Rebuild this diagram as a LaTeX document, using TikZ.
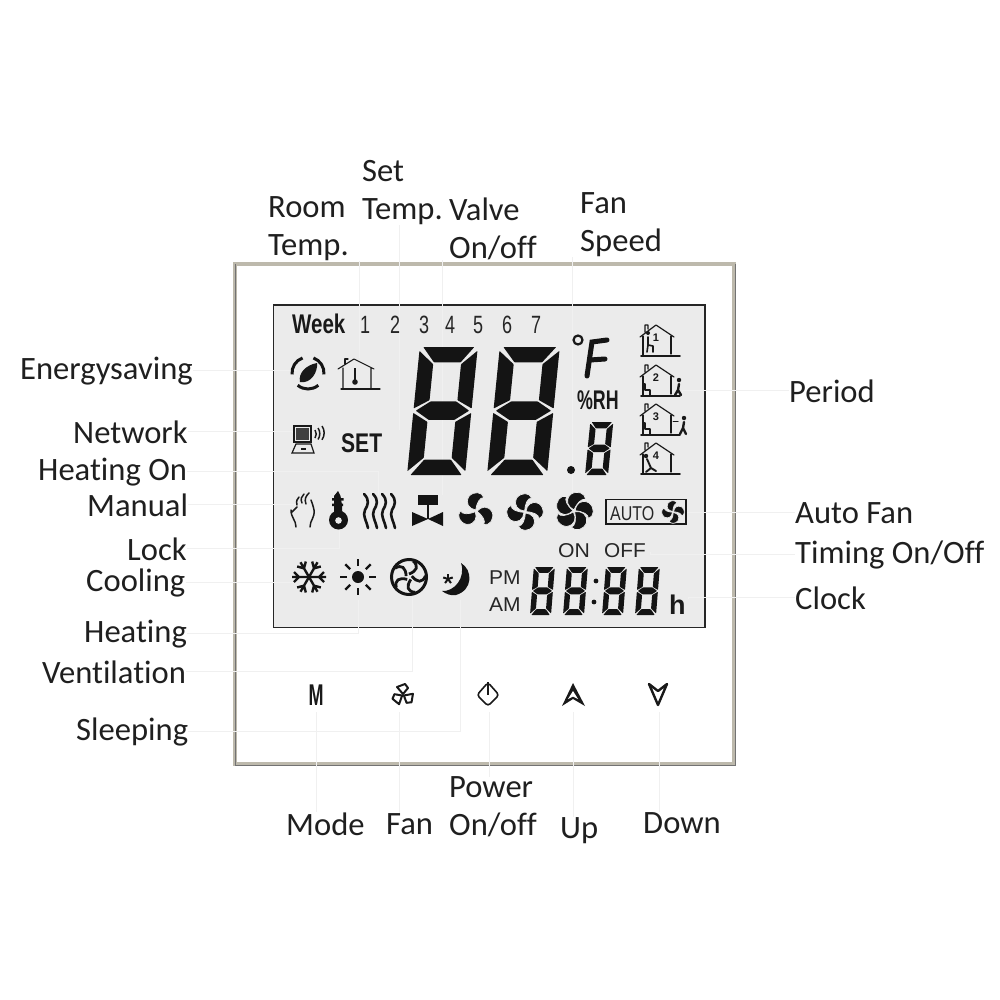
\documentclass[tikz,border=0pt]{standalone}
\usepackage{fontspec}
\setmainfont[Ligatures=NoCommon]{Carlito}
\newfontfamily\lcdfont{Liberation Sans}
\definecolor{rim}{HTML}{BDB9AC}
\tikzset{
  x=1pt,y=-1pt,
  lbl/.style={font=\fontsize{32.6}{38}\selectfont,text=black!88,inner sep=0pt,anchor=base west},
  lbltwo/.style={font=\fontsize{32.6}{38}\selectfont,text=black!88,inner sep=0pt,anchor=west,align=left},
  leader/.style={draw=black!6,line width=0.8pt},
  lcdtxt/.style={font=\lcdfont\fontsize{20}{20}\selectfont,inner sep=0pt,text=black!85,transform shape},
  lcdnum/.style={font=\lcdfont\fontsize{25}{25}\selectfont,inner sep=0pt,text=black!85,transform shape,xscale=.72},
  lcdbold/.style={font=\lcdfont\bfseries\fontsize{27}{27}\selectfont,inner sep=0pt,text=black!90,transform shape},
  seg/.style={fill=black!92,draw=none,rounded corners=0.6pt},
  ink/.style={draw=black!90,line width=1.3pt,line cap=round,line join=round},
}
\newcommand{\lcddigit}[5]{% X Y(bottom-left) W H slant
 \begin{scope}[shift={(#1,#2)},x=#3pt/10,y=#4pt/20,xslant=#5]
  \fill[seg] (0.6,20)--(9.4,20)--(7.3,17.6)--(2.7,17.6)--cycle;
  \fill[seg] (0,19.4)--(2.6,17.3)--(2.6,11.7)--(0,10.4)--cycle;
  \fill[seg] (10,19.4)--(7.4,17.3)--(7.4,11.7)--(10,10.4)--cycle;
  \fill[seg] (0.4,10.05)--(2.8,11.5)--(7.2,11.5)--(9.6,10.05)--(7.2,8.6)--(2.8,8.6)--cycle;
  \fill[seg] (0,9.7)--(2.6,8.3)--(2.6,2.7)--(0,0.6)--cycle;
  \fill[seg] (10,9.7)--(7.4,8.3)--(7.4,2.7)--(10,0.6)--cycle;
  \fill[seg] (0.6,0)--(9.4,0)--(7.3,2.4)--(2.7,2.4)--cycle;
 \end{scope}}
\newcommand{\fanicon}[5]{% x y scale anglelist startrot
 \begin{scope}[shift={(#1,#2)},scale=#3,rotate=#5]
  \foreach \a in {#4}{
   \filldraw[fill=black!92,draw=black!8,line width=.7pt,rotate=\a] (0,-1) .. controls (-6,-4) and (-9,-10) .. (-3,-16)
     .. controls (3,-20) and (11,-17) .. (11,-11) .. controls (7,-12) and (3,-8) .. (0,-1) -- cycle;}
  \fill[black!8] (0,0) circle (1.4);
 \end{scope}}
\newcommand{\houseicon}[3]{% x y number
 \begin{scope}[shift={(#1,#2)}]
  \draw[ink,line width=1.1pt] (3,32)--(3,12) (31,12)--(31,30);
  \draw[ink,line width=1.2pt] (0,13)--(16,1)--(34,13) (5,8)--(5,1)--(8,1)--(8,5);
  \draw[ink,line width=1.7pt] (1,32)--(40,32);
  \node[inner sep=0pt,font=\lcdfont\bfseries\fontsize{11}{11}\selectfont,text=black!90] at (16,14) {#3};
 \end{scope}}
\begin{document}
\begin{tikzpicture}
\useasboundingbox (0,0) rectangle (1000,1000);
% panel
\draw[draw=rim,line width=4pt] (235,264) rectangle (734,764);
\draw[black!55,line width=0.8pt] (235,264)--(235,765)--(735,765)--(735,264);
\draw[fill=black!8,draw=black!85,line width=1.5pt] (273.5,305) rectangle (705,627.5);
% anchor points on the icons
\coordinate (iEnergy) at (296,370);
\coordinate (iNetwork) at (292,432);
\coordinate (iHeatOn) at (378,495);
\coordinate (iManual) at (296,507);
\coordinate (iLock) at (339,530);
\coordinate (iCool) at (295,582);
\coordinate (iHeat) at (358,600);
\coordinate (iVent) at (412,597);
\coordinate (iSleep) at (460,600);
\coordinate (iRoom) at (359,358);
\coordinate (iSet) at (399,430);
\coordinate (iValve) at (442,495);
\coordinate (iFanS) at (572,495);
\coordinate (iPeriod) at (682,393);
\coordinate (iAutoF) at (687,512);
\coordinate (iTiming) at (650,552);
\coordinate (iClock) at (688,598);
\coordinate (bMode) at (316,712);
\coordinate (bFan) at (399,712);
\coordinate (bPower) at (489,712);
\coordinate (bUp) at (573,712);
\coordinate (bDown) at (659,712);
% labels
\node[lbl] (lEnergy) at (20,379) {Energysaving};
\node[lbl] (lNetwork) at (73,443) {Network};
\node[lbl] (lHeatOn) at (38,480) {Heating On};
\node[lbl] (lManual) at (87,516) {Manual};
\node[lbl] (lLock) at (127,560) {Lock};
\node[lbl] (lCool) at (86,591) {Cooling};
\node[lbl] (lHeat) at (84,642) {Heating};
\node[lbl] (lVent) at (42,683) {Ventilation};
\node[lbl] (lSleep) at (76,740) {Sleeping};
\node[lbl] (lPeriod) at (789,402) {Period};
\node[lbl] (lAutoF) at (795,523) {Auto Fan};
\node[lbl] (lTiming) at (795,563) {Timing On/Off};
\node[lbl] (lClock) at (795,609) {Clock};
\node[lbl] (lMode) at (286,835) {Mode};
\node[lbl] (lFan) at (386,834) {Fan};
\node[lbl] (lUp) at (560,838) {Up};
\node[lbl] (lDown) at (643,833) {Down};
\node[lbltwo] (lPower) at (449,807) {Power\\On/off};
\node[lbltwo] (lRoom) at (268,229) {Room\\Temp.};
\node[lbltwo] (lSet) at (362,193) {Set\\Temp.};
\node[lbltwo] (lValve) at (449,229) {Valve\\On/off};
\node[lbltwo] (lFanS) at (580,225) {Fan\\Speed};
% leaders
\draw[leader] (lEnergy.east) -| (iEnergy);
\draw[leader] (lNetwork.east) -| (iNetwork);
\draw[leader] (lHeatOn.east) -| (iHeatOn);
\draw[leader] (lManual.east) -| (iManual);
\draw[leader] (lLock.east) -| (iLock);
\draw[leader] (lCool.east) -| (iCool);
\draw[leader] (lHeat.east) -| (iHeat);
\draw[leader] (lVent.east) -| (iVent);
\draw[leader] (lSleep.east) -| (iSleep);
\draw[leader] (lPeriod.west) -| (iPeriod);
\draw[leader] (lAutoF.west) -| (iAutoF);
\draw[leader] (lTiming.west) -| (iTiming);
\draw[leader] (lClock.west) -| (iClock);
\draw[leader] (iRoom) -- (iRoom |- lRoom.south);
\draw[leader] (iSet) -- (iSet |- lSet.south);
\draw[leader] (iValve) -- (iValve |- lValve.south);
\draw[leader] (iFanS) -- (iFanS |- lFanS.south);
\draw[leader] (bMode) -- (bMode |- lMode.north);
\draw[leader] (bFan) -- (bFan |- lFan.north);
\draw[leader] (bPower) -- (bPower |- lPower.north);
\draw[leader] (bUp) -- (bUp |- lUp.north);
\draw[leader] (bDown) -- (bDown |- lDown.north);
% week row
\node[lcdbold,anchor=base west,xscale=.76] (tWeek) at (292,333) {Week};
\foreach \px/\n in {365/1,395/2,424/3,450/4,478/5,507/6,536/7}
  \node[lcdnum,anchor=base] (tDay\n) at (\px,333) {\n};
% big digits
\lcddigit{407}{475}{58}{128}{.1}
\lcddigit{487}{475}{60}{128}{.1}
\lcddigit{585}{475}{23}{53}{.1}
\fill[black!92] (571,470) circle (4);
% deg F, RH
\draw[black!90,line width=2.2pt] (578,340) circle (4.5);
\draw[black!92,line width=5pt,line cap=round] (587,376)--(592,342)--(607,340) (590,360)--(605,359);
\node[lcdbold,anchor=base west,xscale=.66] (tRH) at (577,409) {\%RH};
\node[lcdbold,anchor=base west,xscale=.78] (tSet) at (341,452) {SET};
% energy icon
\begin{scope}[shift={(308,373)}]
 \draw[black!92,line width=3pt] (175:16) arc[start angle=175,end angle=250,radius=16];
 \draw[black!92,line width=3pt] (290:16) arc[start angle=290,end angle=365,radius=16];
 \draw[black!92,line width=3pt] (50:16) arc[start angle=50,end angle=130,radius=16];
\end{scope}
\fill[black!90] (300,382) .. controls (298,373) and (306,365) .. (317,363) .. controls (318,372) and (311,384) .. (300,382) -- cycle;
% house thermometer
\draw[ink,line width=1.1pt] (343,389)--(343,368) (371,368)--(371,389) (338,369)--(354,359)--(374,369);
\draw[ink,line width=1.1pt] (341,389)--(380,389) (345,364)--(345,359)--(348,359);
\draw[black!90,line width=1.8pt] (355,368)--(355,380);
\fill[black!90] (355,382) circle (2.8);
% network
\draw[black!90,line width=1.2pt] (294,426) rectangle (311,442);
\fill[black!75] (296,428) rectangle (309,440);
\draw[black!90,line width=1.2pt] (296,444)--(292,453)--(314,453)--(311,444)--cycle;
\draw[black!90,line width=1.2pt] (301,449)--(306,449);
\draw[black!90,line width=1.5pt] (315,430) arc[start angle=-35,end angle=35,radius=7];
\draw[black!90,line width=1.5pt] (318,428) arc[start angle=-35,end angle=35,radius=10];
\draw[black!90,line width=1.5pt] (322,426) arc[start angle=-35,end angle=35,radius=12];
% hand
\draw[ink,line width=1.5pt] (296,527) .. controls (296,520) and (291,518) .. (291,510) (292,512)--(297,507);
\draw[ink,line width=1.5pt] (310,527) .. controls (310,520) and (315,518) .. (314,510) .. controls (313,505) and (312,503) .. (311,500);
\draw[ink,line width=1.5pt] (297,505) .. controls (296,501) and (297,499) .. (299,497) (302,503) .. controls (300,499) and (302,496) .. (304,494) (306,504) .. controls (304,499) and (306,496) .. (309,493);
% key thermometer
\fill[black!92] (338,491)--(340.5,496)--(342,505)--(342,514)--(334,514)--(334,496)--cycle;
\fill[black!92] (338.5,520) circle (9.5);
\fill[black!8] (338.5,520.5) circle (3.3);
\fill[black!92] (332,498) rectangle (343.5,500.5) (332,503.5) rectangle (343,506);
% waves
\foreach \dx in {0,9,18,27}
 \draw[black!92,line width=2.6pt,line cap=round] (364+\dx,494) .. controls (370+\dx,500) and (368+\dx,505) .. (365+\dx,510) .. controls (362+\dx,515) and (367+\dx,522) .. (368+\dx,528);
% valve
\fill[black!92] (418,495) rectangle (438,505);
\draw[black!92,line width=2pt] (428,505)--(428,519);
\fill[black!92] (412,512)--(428,519)--(412,526)--cycle (443,512)--(428,519)--(443,526)--cycle;
% fans
\fanicon{476}{511}{1}{0,120,240}{15}
\fanicon{525}{512}{1}{0,90,180,270}{20}
\fanicon{574}{511}{1.05}{0,72,144,216,288}{0}
% auto
\draw[black!90,line width=1.2pt] (606,499.5) rectangle (686,524);
\node[lcdtxt,anchor=base west,xscale=.8] (tAuto) at (610,520) {AUTO};
\fanicon{673}{512}{.62}{0,90,180,270}{20}
% on off
\node[lcdtxt,anchor=base west,xscale=1.06] (tOn) at (558,557) {ON};
\node[lcdtxt,anchor=base west,xscale=1.04] (tOff) at (604,557) {OFF};
\node[lcdtxt,anchor=base west,xscale=1.05] (tPM) at (489,584) {PM};
\node[lcdtxt,anchor=base west,xscale=1.05] (tAM) at (489,611) {AM};
% clock
\lcddigit{530}{615}{21}{48}{.08}
\lcddigit{563}{615}{21}{48}{.08}
\lcddigit{602}{615}{21}{48}{.08}
\lcddigit{635}{615}{21}{48}{.08}
\fill[black!92] (596,581) circle (2.4) (594,602) circle (2.4);
\node[lcdbold,anchor=base west] (tH) at (669,614) {h};
% snowflake
\begin{scope}[shift={(309,577)}]
 \foreach \a in {0,60,120,180,240,300}{
  \begin{scope}[rotate=\a]
   \draw[black!92,line width=2.4pt] (0,0)--(17,0) (10,0)--(15,-5) (10,0)--(15,5);
  \end{scope}}
\end{scope}
% sun
\fill[black!92] (358,577) circle (6);
\foreach \a in {0,45,...,315}
 \draw[black!92,line width=2.4pt,shift={(358,577)},rotate=\a] (11,0)--(18,0);
% vent
\draw[black!92,line width=3pt] (409,577) circle (17.5);
\foreach \a in {0,72,144,216,288}
 \draw[black!92,line width=2.8pt,shift={(409,577)},rotate=\a] (0,-3) .. controls (8,-6) and (10,-11) .. (4,-16);
% moon
\fill[black!92] (461,563) .. controls (473,570) and (473,590) .. (456,595) .. controls (451,596) and (446,594) .. (442,591) .. controls (454,592) and (466,578) .. (461,563) -- cycle;
\foreach \a in {0,72,144,216,288}
 \draw[black!92,line width=2pt,shift={(448,579)},rotate=\a] (0,0)--(0,-5);
% period houses
\houseicon{640}{324}{1}
\houseicon{640}{364}{2}
\houseicon{640}{403}{3}
\houseicon{640}{442}{4}
% seated figure 1
\draw[ink,line width=1.6pt] (648,337)--(648,345)--(653,346)--(653,352) (648,345)--(647,352);
\fill[black!90] (648,333) circle (2);
% stairs 2,3
\draw[ink,line width=1.1pt] (643,396)--(650,396)--(650,390)--(645,390)--(645,384)--(643,384);
\draw[ink,line width=1.1pt] (643,435)--(650,435)--(650,429)--(645,429)--(645,423)--(643,423);
% walkers
\fill[black!90] (679,380) circle (2.2);
\draw[ink,line width=2.4pt] (679,384)--(678,390)--(675,395) (678,390)--(681,395);
\fill[black!90] (684,418) circle (2.2);
\draw[ink,line width=2.4pt] (684,422)--(683,428)--(680,434) (683,428)--(686,434);
\draw[ink,line width=1pt] (678,421)--(673,421);
% reclining 4
\fill[black!90] (646,456) circle (2.2);
\draw[ink,line width=1.9pt] (647,459)--(651,468)--(656,471) (651,468)--(646,472);
% buttons
\node[inner sep=0pt,font=\lcdfont\bfseries\fontsize{30}{30}\selectfont,xscale=.6,transform shape,text=black!90] (btnM) at (316,695) {M};
\begin{scope}[shift={(403,695)}]
 \foreach \a in {0,120,240}
  \draw[black!90,line width=2pt,line join=round,rotate=\a] (0,-1)--(-6,-8)--(2,-11)--(5,-7)--cycle;
\end{scope}
\draw[black!90,line width=1.6pt,rounded corners=3pt] (488,682.5)--(499,695)--(488,706)--(477,695)--cycle;
\draw[black!90,line width=2.2pt] (488,682)--(488,695);
\fill[black!90] (573,683)--(585,706)--(573,699)--(562,706)--cycle;
\fill[white] (573,691)--(578,699)--(573,696.5)--(568,699)--cycle;
\draw[black!90,line width=2.4pt,line join=round] (649,684)--(658,705)--(667,684)--(658,691)--cycle;
\end{tikzpicture}
\end{document}
